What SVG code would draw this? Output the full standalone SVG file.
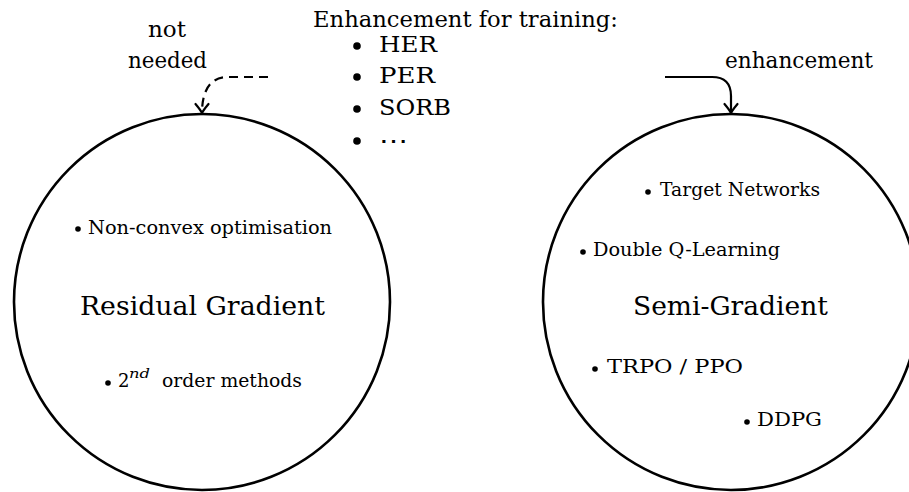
<svg xmlns="http://www.w3.org/2000/svg" width="909" height="492" viewBox="0 0 909 492">
<style>
text{font-family:'DejaVu Serif','Liberation Serif',serif;fill:#000}
.big{font-size:26px}
.mid{font-size:22px}
.sm{font-size:18px}
.ring{fill:none;stroke:#000;stroke-width:2.6}
.conn{fill:none;stroke:#000;stroke-width:2.2}
.dot{fill:#000}
</style>
<defs>
<marker id="arr" markerUnits="userSpaceOnUse" markerWidth="24" markerHeight="24" viewBox="-12 -12 24 24" refX="0" refY="0" orient="auto">
<path d="M-9,-6.5 Q-3,-1.5 0,0 Q-3,1.5 -9,6.5" fill="none" stroke="#000" stroke-width="2.2" stroke-linecap="round" stroke-dasharray="none"/>
</marker>
</defs>
<rect width="909" height="492" fill="#fff"/>
<g id="connectors">
<path class="conn" d="M268,77 L228,77 C212,77 202,88 202,113" stroke-dasharray="9 6" marker-end="url(#arr)"/>
<path class="conn" d="M665,77 L712,77 Q731,77 731,96 L731,113" marker-end="url(#arr)"/>
</g>
<g id="labels">
<text class="mid" x="148" y="37" textLength="38" lengthAdjust="spacingAndGlyphs">not</text>
<text class="mid" x="128" y="68" textLength="79" lengthAdjust="spacingAndGlyphs">needed</text>
<text class="mid" x="725" y="68" textLength="148" lengthAdjust="spacingAndGlyphs">enhancement</text>
</g>
<g id="enhancements">
<text class="mid" x="313" y="27" textLength="305" lengthAdjust="spacingAndGlyphs">Enhancement for training:</text>
<circle class="dot" cx="357" cy="46" r="3.8"/>
<text class="mid" x="379" y="52" textLength="58" lengthAdjust="spacingAndGlyphs">HER</text>
<circle class="dot" cx="357" cy="77" r="3.8"/>
<text class="mid" x="379" y="83" textLength="56" lengthAdjust="spacingAndGlyphs">PER</text>
<circle class="dot" cx="357" cy="109" r="3.8"/>
<text class="mid" x="379" y="115" textLength="72" lengthAdjust="spacingAndGlyphs">SORB</text>
<circle class="dot" cx="357" cy="141" r="3.8"/>
<text class="mid" x="379" y="148" textLength="29" lengthAdjust="spacingAndGlyphs">⋯</text>
</g>
<g id="residual-gradient">
<circle class="ring" cx="202" cy="302" r="188"/>
<text class="big" x="80" y="315" textLength="245" lengthAdjust="spacingAndGlyphs">Residual Gradient</text>
<circle class="dot" cx="78" cy="229" r="2.8"/>
<text class="sm" x="88" y="234" textLength="244" lengthAdjust="spacingAndGlyphs">Non-convex optimisation</text>
<circle class="dot" cx="108" cy="383" r="2.8"/>
<text class="sm" x="118" y="387">2</text>
<text x="129" y="378" style="font-size:13px;font-style:italic" textLength="21" lengthAdjust="spacingAndGlyphs">nd</text>
<text class="sm" x="162" y="387" textLength="140" lengthAdjust="spacingAndGlyphs">order methods</text>
</g>
<g id="semi-gradient">
<circle class="ring" cx="731" cy="302" r="188"/>
<text class="big" x="633" y="315" textLength="195" lengthAdjust="spacingAndGlyphs">Semi-Gradient</text>
<circle class="dot" cx="648" cy="192" r="2.8"/>
<text class="sm" x="660" y="196" textLength="160" lengthAdjust="spacingAndGlyphs">Target Networks</text>
<circle class="dot" cx="583" cy="252" r="2.8"/>
<text class="sm" x="593" y="256" textLength="187" lengthAdjust="spacingAndGlyphs">Double Q-Learning</text>
<circle class="dot" cx="595" cy="369" r="2.8"/>
<text class="sm" x="607" y="373" textLength="136" lengthAdjust="spacingAndGlyphs">TRPO / PPO</text>
<circle class="dot" cx="747" cy="422" r="2.8"/>
<text class="sm" x="757" y="426" textLength="65" lengthAdjust="spacingAndGlyphs">DDPG</text>
</g>
</svg>
